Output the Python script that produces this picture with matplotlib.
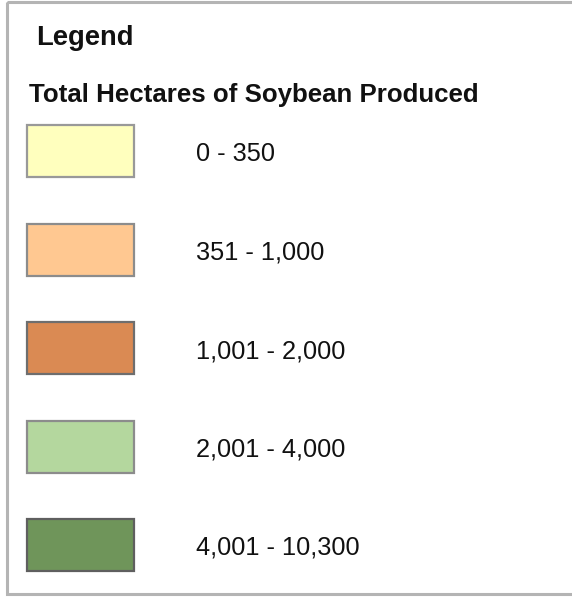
import matplotlib
matplotlib.use("Agg")
import matplotlib.pyplot as plt
from matplotlib.patches import Rectangle

title = "Legend"
subtitle = "Total Hectares of Soybean Produced"
class_labels = ["0 - 350", "351 - 1,000", "1,001 - 2,000", "2,001 - 4,000", "4,001 - 10,300"]
class_colors = ["#FFFFBE", "#FFC891", "#DA8A53", "#B4D79E", "#6F955A"]
edge_colors = ["#999999", "#8c8c8c", "#6e6e6e", "#8c8c8c", "#5f5f5f"]

plt.rcParams["font.family"] = ["Liberation Sans", "DejaVu Sans"]

W, H = 572, 597
fig = plt.figure(figsize=(W / 100, H / 100), dpi=100)
ax = fig.add_axes([0, 0, 1, 1])
ax.set_xlim(0, W)
ax.set_ylim(H, 0)
ax.axis("off")

# frame
ax.add_patch(Rectangle((7, 1.5), 600, 592.5, fill=False, edgecolor="#b4b4b4", linewidth=2.2))

ax.text(36, 45, title, fontsize=19.7, fontweight="bold", va="baseline", ha="left", color="#111111")
ax.text(29, 102, subtitle, fontsize=18.6, fontweight="bold", va="baseline", ha="left", color="#111111")

ys = [125 + i * 98.5 for i in range(len(class_labels))]
ax.bar([27] * len(ys), [52] * len(ys), width=107, bottom=ys, align="edge",
       color=class_colors, edgecolor=edge_colors, linewidth=1.6)
for y, lab in zip(ys, class_labels):
    ax.text(196, y + 36, lab, fontsize=18.3, va="baseline", ha="left", color="#111111")

fig.savefig("out.png", dpi=100)
